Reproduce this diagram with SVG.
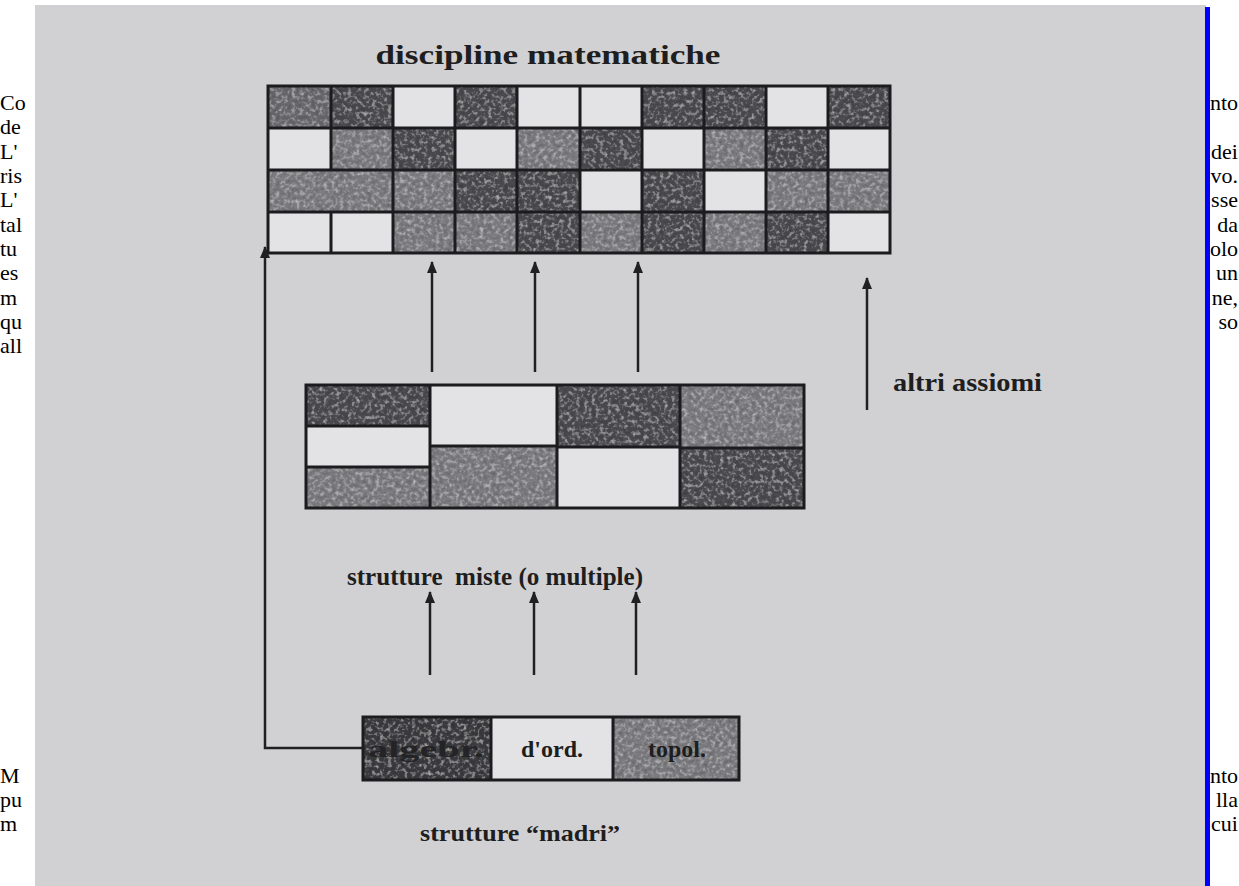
<svg xmlns="http://www.w3.org/2000/svg" width="1239" height="886" viewBox="0 0 1239 886">
  <style>
    .page { font-family: "Liberation Serif", "Times New Roman", serif; font-size: 22px; fill: #000; }
    .lbl { font-family: "Liberation Serif", "Times New Roman", serif; font-weight: bold; fill: #1e1e20; }
    .grid { fill: none; stroke: #1c1c1e; stroke-width: 3; }
    .D { fill: #4c4c50; }
    .M { fill: #7c7c80; }
    .M2 { fill: #6a6a6e; }
    .L { fill: #e3e3e5; }
    .tone { filter: url(#grain); }
    .arrow { fill: none; stroke: #202022; stroke-width: 2.5; marker-end: url(#head); }
  </style>
  <defs>
    <marker id="head" markerUnits="userSpaceOnUse" markerWidth="12" markerHeight="12" refX="11" refY="5" orient="auto">
      <path d="M0,0 L12,5 L0,10 z" fill="#202022"/>
    </marker>
    <!-- soft mottled screen-tone for the shaded cells -->
    <filter id="grain" x="0" y="0" width="100%" height="100%">
      <feTurbulence type="fractalNoise" baseFrequency="0.25" numOctaves="2" seed="4" result="n"/>
      <feColorMatrix in="n" type="saturate" values="0" result="g"/>
      <feComponentTransfer in="g" result="g2">
        <feFuncR type="linear" slope="0.6" intercept="0.2"/>
        <feFuncG type="linear" slope="0.6" intercept="0.2"/>
        <feFuncB type="linear" slope="0.6" intercept="0.2"/>
        <feFuncA type="linear" slope="0" intercept="1"/>
      </feComponentTransfer>
      <feBlend in="SourceGraphic" in2="g2" mode="overlay" result="b"/>
      <feComposite in="b" in2="SourceGraphic" operator="in"/>
    </filter>
  </defs>

  <rect width="1239" height="886" fill="#ffffff"/>

  <!-- surrounding page text, partly hidden behind the figure -->
  <g id="page-text" class="page">
    <text x="0" y="110">Co</text>
    <text x="0" y="134">de</text>
    <text x="0" y="159">L'</text>
    <text x="0" y="183">ris</text>
    <text x="0" y="207">L'</text>
    <text x="0" y="232">tal</text>
    <text x="0" y="256">tu</text>
    <text x="0" y="280">es</text>
    <text x="0" y="305">m</text>
    <text x="0" y="329">qu</text>
    <text x="0" y="353">all</text>
    <text x="0" y="783">M</text>
    <text x="0" y="807">pu</text>
    <text x="0" y="831">m</text>
    <g text-anchor="end">
      <text x="1238" y="110">nto</text>
      <text x="1238" y="159">dei</text>
      <text x="1238" y="183">vo.</text>
      <text x="1238" y="207">sse</text>
      <text x="1238" y="232">da</text>
      <text x="1238" y="256">olo</text>
      <text x="1238" y="280">un</text>
      <text x="1238" y="305">ne,</text>
      <text x="1238" y="329">so</text>
      <text x="1238" y="783">nto</text>
      <text x="1238" y="807">lla</text>
      <text x="1238" y="831">cui</text>
    </g>
  </g>

  <!-- figure background -->
  <rect id="figure-bg" x="35" y="5" width="1171" height="881" fill="#d1d1d4"/>
  <rect id="edge" x="1205" y="7" width="5" height="879" fill="#0000ff"/>

  <!-- top grid: mathematical disciplines -->
  <g id="discipline">
    <text class="lbl" x="548" y="64" font-size="28" text-anchor="middle" textLength="345" lengthAdjust="spacingAndGlyphs">discipline matematiche</text>
    <g class="L">
      <rect x="393" y="86" width="62" height="42"/>
      <rect x="517" y="86" width="63" height="42"/>
      <rect x="580" y="86" width="62" height="42"/>
      <rect x="766" y="86" width="62" height="42"/>
      <rect x="268" y="128" width="63" height="42"/>
      <rect x="455" y="128" width="62" height="42"/>
      <rect x="642" y="128" width="62" height="42"/>
      <rect x="828" y="128" width="62" height="42"/>
      <rect x="580" y="170" width="62" height="42"/>
      <rect x="704" y="170" width="62" height="42"/>
      <rect x="268" y="212" width="63" height="41"/>
      <rect x="331" y="212" width="62" height="41"/>
      <rect x="828" y="212" width="62" height="41"/>
    </g>
    <g class="tone">
      <!-- row 1 -->
      <rect class="M2" x="268" y="86" width="63" height="42"/>
      <rect class="D" x="331" y="86" width="62" height="42"/>
      <rect class="D" x="455" y="86" width="62" height="42"/>
      <rect class="D" x="642" y="86" width="62" height="42"/>
      <rect class="D" x="704" y="86" width="62" height="42"/>
      <rect class="D" x="828" y="86" width="62" height="42"/>
      <!-- row 2 -->
      <rect class="M" x="331" y="128" width="62" height="42"/>
      <rect class="D" x="393" y="128" width="62" height="42"/>
      <rect class="M" x="517" y="128" width="63" height="42"/>
      <rect class="D" x="580" y="128" width="62" height="42"/>
      <rect class="M" x="704" y="128" width="62" height="42"/>
      <rect class="D" x="766" y="128" width="62" height="42"/>
      <!-- row 3 -->
      <rect class="M" x="268" y="170" width="125" height="42"/>
      <rect class="M" x="393" y="170" width="62" height="42"/>
      <rect class="D" x="455" y="170" width="62" height="42"/>
      <rect class="D" x="517" y="170" width="63" height="42"/>
      <rect class="D" x="642" y="170" width="62" height="42"/>
      <rect class="M" x="766" y="170" width="62" height="42"/>
      <rect class="M" x="828" y="170" width="62" height="42"/>
      <!-- row 4 -->
      <rect class="M" x="393" y="212" width="62" height="41"/>
      <rect class="M" x="455" y="212" width="62" height="41"/>
      <rect class="D" x="517" y="212" width="63" height="41"/>
      <rect class="M" x="580" y="212" width="62" height="41"/>
      <rect class="D" x="642" y="212" width="62" height="41"/>
      <rect class="M" x="704" y="212" width="62" height="41"/>
      <rect class="D" x="766" y="212" width="62" height="41"/>
    </g>
    <path class="grid" d="M268,86 H890 V253 H268 Z M268,128 H890 M268,170 H890 M268,212 H890
      M331,86 V170 M331,212 V253 M393,86 V253 M455,86 V253 M517,86 V253 M580,86 V253
      M642,86 V253 M704,86 V253 M766,86 V253 M828,86 V253"/>
  </g>

  <!-- other axioms label -->
  <g id="altri-assiomi">
    <text class="lbl" x="893" y="391" font-size="25" textLength="149" lengthAdjust="spacingAndGlyphs">altri assiomi</text>
  </g>

  <!-- middle grid: mixed structures -->
  <g id="strutture-miste">
    <g class="L">
      <rect x="306" y="426" width="124" height="41"/>
      <rect x="430" y="385" width="127" height="61"/>
      <rect x="557" y="447" width="123" height="61"/>
    </g>
    <g class="tone">
      <rect class="D" x="306" y="385" width="124" height="41"/>
      <rect class="M" x="306" y="467" width="124" height="41"/>
      <rect class="M" x="430" y="446" width="127" height="62"/>
      <rect class="D" x="557" y="385" width="123" height="62"/>
      <rect class="M" x="680" y="385" width="124" height="63"/>
      <rect class="D" x="680" y="448" width="124" height="60"/>
    </g>
    <path class="grid" d="M306,385 H804 V508 H306 Z M430,385 V508 M557,385 V508 M680,385 V508
      M306,426 H430 M306,467 H430 M430,446 H557 M557,447 H680 M680,448 H804"/>
    <text class="lbl" x="347" y="585" font-size="25" xml:space="preserve" textLength="296" lengthAdjust="spacingAndGlyphs">strutture  miste (o multiple)</text>
  </g>

  <!-- bottom: mother structures -->
  <g id="strutture-madri">
    <rect class="L" x="491" y="717" width="122" height="63"/>
    <g class="tone">
      <rect x="363" y="717" width="128" height="63" fill="#3c3c40"/>
      <rect class="M" x="613" y="717" width="126" height="63"/>
    </g>
    <path class="grid" d="M363,717 H739 V780 H363 Z M491,717 V780 M613,717 V780"/>
    <text class="lbl" x="368" y="757" font-size="24" style="fill:#242426" textLength="116" lengthAdjust="spacingAndGlyphs">algebr.</text>
    <text class="lbl" x="552" y="757" font-size="24" style="font-weight:600" text-anchor="middle">d'ord.</text>
    <text class="lbl" x="677" y="757" font-size="24" style="font-weight:600" text-anchor="middle">topol.</text>
    <text class="lbl" x="520" y="841" font-size="23" text-anchor="middle" textLength="200" lengthAdjust="spacingAndGlyphs">strutture “madri”</text>
  </g>

  <!-- connectors -->
  <g id="connectors">
    <path class="arrow" d="M363,748 H265 V247"/>
    <path class="arrow" d="M432,372 V262"/>
    <path class="arrow" d="M535,372 V262"/>
    <path class="arrow" d="M638,372 V262"/>
    <path class="arrow" d="M867,410 V278"/>
    <path class="arrow" d="M430,675 V592"/>
    <path class="arrow" d="M534,675 V592"/>
    <path class="arrow" d="M636,675 V592"/>
  </g>
</svg>
